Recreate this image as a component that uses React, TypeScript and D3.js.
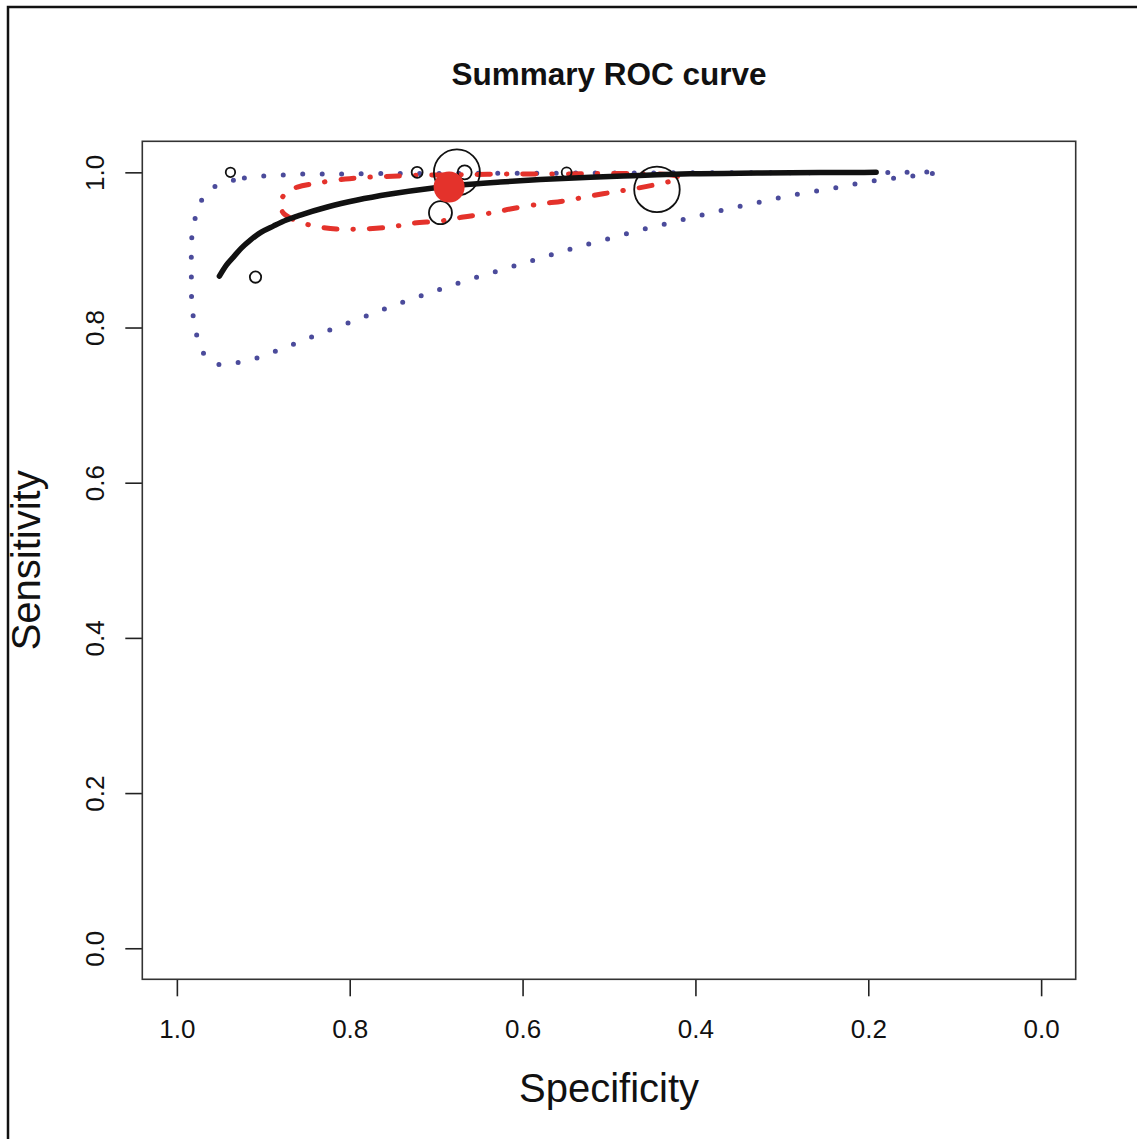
import React, { useRef, useEffect } from 'react';
import * as d3 from 'd3';

// ticks
const specTicks = [1.0, 0.8, 0.6, 0.4, 0.2, 0.0];
const sensTicks = [0.0, 0.2, 0.4, 0.6, 0.8, 1.0];

// individual studies
const studySpec = [0.938, 0.909, 0.722, 0.676, 0.667, 0.695, 0.549, 0.4445];
const studySens = [1.0, 0.865, 1.0, 1.0, 1.0, 0.948, 1.0, 0.978];
const studyWeight = [4.2, 6.1, 5.7, 100, 9.3, 25, 4.7, 98];

// summary estimate
const summarySpec = 0.685;
const summarySens = 0.981;

// SROC curve
const srocSpec = [0.9508, 0.9427, 0.9346, 0.9254, 0.915, 0.9023, 0.8884, 0.8733, 0.8571, 0.8259, 0.7912, 0.753, 0.7033, 0.6721, 0.6258, 0.5795, 0.5217, 0.4835, 0.4442, 0.406, 0.3285, 0.2557, 0.1909];
const srocSens = [0.8663, 0.8805, 0.8908, 0.9024, 0.9127, 0.923, 0.9307, 0.9385, 0.9449, 0.9553, 0.9643, 0.972, 0.9798, 0.9836, 0.9875, 0.9907, 0.9936, 0.9952, 0.9968, 0.9981, 0.9991, 0.9997, 1.0];

// confidence region
const confSpec = [0.4176, 0.4268, 0.4639, 0.5101, 0.5448, 0.5876, 0.6177, 0.6605, 0.6952, 0.7183, 0.7438, 0.7762, 0.8051, 0.8375, 0.8606, 0.8722, 0.8791, 0.8803, 0.8768, 0.8664, 0.8537, 0.8421, 0.8155, 0.7877, 0.753, 0.7264, 0.6952, 0.6686, 0.6374, 0.6143, 0.5795, 0.5529, 0.5217, 0.4951, 0.4662, 0.4373, 0.4234];
const confSens = [0.9927, 0.9965, 0.9982, 0.9985, 0.9978, 0.9978, 0.9978, 0.9972, 0.9965, 0.9965, 0.9952, 0.9939, 0.9914, 0.9862, 0.981, 0.9746, 0.9656, 0.9566, 0.9475, 0.9398, 0.9346, 0.9308, 0.9269, 0.9269, 0.9295, 0.9346, 0.9372, 0.9424, 0.9475, 0.9527, 0.9592, 0.963, 0.9694, 0.9746, 0.9798, 0.9862, 0.9901];

// prediction region
const predSpec = [0.9416, 0.9219, 0.8999, 0.8768, 0.8537, 0.8317, 0.7415, 0.6258, 0.5101, 0.3945, 0.2788, 0.1631, 0.1180,
  0.1596, 0.2024, 0.2452, 0.288, 0.3308, 0.3736, 0.4164, 0.4592, 0.502, 0.5448, 0.5864, 0.6292, 0.6709, 0.7114, 0.7531, 0.7924, 0.8317, 0.8699, 0.9069, 0.9265, 0.9485,
  0.9647, 0.974, 0.9786, 0.9821, 0.9832, 0.9832, 0.9832, 0.9821, 0.9774, 0.9705, 0.9589];
const predSens = [0.9875, 0.9927, 0.9952, 0.9965, 0.9978, 0.9978, 0.9985, 0.9988, 0.9991, 0.9994, 0.9996, 0.9999, 1.0,
  0.9939, 0.9875, 0.9785, 0.9707, 0.9604, 0.9501, 0.9385, 0.9269, 0.914, 0.9011, 0.887, 0.8728, 0.8586, 0.8431, 0.8266, 0.8098, 0.7931, 0.7764, 0.7609, 0.7557, 0.7516,
  0.7609, 0.7776, 0.7995, 0.8227, 0.8472, 0.873, 0.8988, 0.923, 0.9462, 0.9656, 0.9798];

const W = 1137;
const H = 1139;
const box = { left: 142.3, right: 1075.7, top: 141.3, bottom: 979.3 };
const RED = '#e4322b';
const BLUE = '#4b4b9b';
const FONT = 'Liberation Sans, Arial, Helvetica, sans-serif';

const App = () => {
  const svgRef = useRef<SVGSVGElement | null>(null);

  useEffect(() => {
    const svg = d3.select(svgRef.current);
    svg.selectAll('*').remove();

    const x = d3.scaleLinear().domain([1.04, -0.04]).range([box.left, box.right]);
    const y = d3.scaleLinear().domain([-0.04, 1.04]).range([box.bottom, box.top]);
    const r = d3.scaleSqrt().domain([0, 100]).range([0, 23]);

    // outer frame
    svg.append('rect')
      .attr('x', 8).attr('y', 7)
      .attr('width', W + 20).attr('height', H + 20)
      .attr('fill', 'none').attr('stroke', '#111').attr('stroke-width', 2.5);

    // title
    svg.append('text')
      .attr('x', (box.left + box.right) / 2).attr('y', 85)
      .attr('text-anchor', 'middle')
      .style('font-family', FONT).style('font-size', '31.5px').style('font-weight', 'bold')
      .attr('fill', '#111')
      .text('Summary ROC curve');

    // x axis
    const xAxis = d3.axisBottom(x).tickValues(specTicks).tickSize(17).tickFormat(d3.format('.1f'));
    const gx = svg.append('g').attr('transform', `translate(0, ${box.bottom})`).call(xAxis);
    gx.select('.domain').remove();
    gx.selectAll('line').attr('stroke', '#222').attr('stroke-width', 1.6);
    gx.selectAll('text')
      .attr('y', 59).attr('dy', 0)
      .style('font-family', FONT).style('font-size', '26px').attr('fill', '#111');

    // y axis
    const yAxis = d3.axisLeft(y).tickValues(sensTicks).tickSize(17).tickFormat(d3.format('.1f'));
    const gy = svg.append('g').attr('transform', `translate(${box.left}, 0)`).call(yAxis);
    gy.select('.domain').remove();
    gy.selectAll('line').attr('stroke', '#222').attr('stroke-width', 1.6);
    gy.selectAll('text')
      .attr('transform', 'rotate(-90)')
      .attr('x', 0).attr('y', -38.3).attr('dy', 0)
      .attr('text-anchor', 'middle')
      .style('font-family', FONT).style('font-size', '26px').attr('fill', '#111');

    // axis labels
    svg.append('text')
      .attr('x', (box.left + box.right) / 2).attr('y', 1102)
      .attr('text-anchor', 'middle')
      .style('font-family', FONT).style('font-size', '40px')
      .attr('fill', '#111')
      .text('Specificity');

    svg.append('text')
      .attr('transform', `translate(40, ${(box.top + box.bottom) / 2}) rotate(-90)`)
      .attr('text-anchor', 'middle')
      .style('font-family', FONT).style('font-size', '40px')
      .attr('fill', '#111')
      .text('Sensitivity');

    // plot box
    svg.append('rect')
      .attr('x', box.left).attr('y', box.top)
      .attr('width', box.right - box.left).attr('height', box.bottom - box.top)
      .attr('fill', 'none').attr('stroke', '#333').attr('stroke-width', 1.6);

    const pts = (a: number[], b: number[]) => a.map((v, i) => [v, b[i]] as [number, number]);

    // prediction region (dotted)
    const closedLine = d3.line<[number, number]>()
      .x(d => x(d[0])).y(d => y(d[1]))
      .curve(d3.curveCatmullRomClosed.alpha(0.5));

    svg.append('path')
      .attr('d', closedLine(pts(predSpec, predSens)))
      .attr('fill', 'none').attr('stroke', BLUE)
      .attr('stroke-width', 5).attr('stroke-linecap', 'round')
      .attr('stroke-dasharray', '0 19.5');

    // confidence region (dot-dash)
    svg.append('path')
      .attr('d', closedLine(pts(confSpec, confSens)))
      .attr('fill', 'none').attr('stroke', RED)
      .attr('stroke-width', 5).attr('stroke-linecap', 'round')
      .attr('stroke-dasharray', '13 16 0.5 16');

    // SROC curve
    const openLine = d3.line<[number, number]>()
      .x(d => x(d[0])).y(d => y(d[1]))
      .curve(d3.curveMonotoneX);

    svg.append('path')
      .attr('d', openLine(pts(srocSpec, srocSens)))
      .attr('fill', 'none').attr('stroke', '#111')
      .attr('stroke-width', 5.5).attr('stroke-linecap', 'round');

    // studies
    svg.append('g').selectAll('circle')
      .data(studySpec)
      .enter()
      .append('circle')
      .attr('cx', d => x(d))
      .attr('cy', (d, i) => y(studySens[i]))
      .attr('r', (d, i) => r(studyWeight[i]))
      .attr('fill', 'none').attr('stroke', '#111').attr('stroke-width', 1.8);

    // summary point
    svg.append('circle')
      .attr('cx', x(summarySpec)).attr('cy', y(summarySens))
      .attr('r', 15.5)
      .attr('fill', RED);
  }, []);

  return (
    <svg
      ref={svgRef}
      width={W}
      height={H}
      style={{ position: 'absolute', left: 0, top: 0, background: '#fff' }}
    ></svg>
  );
};

export default App;
